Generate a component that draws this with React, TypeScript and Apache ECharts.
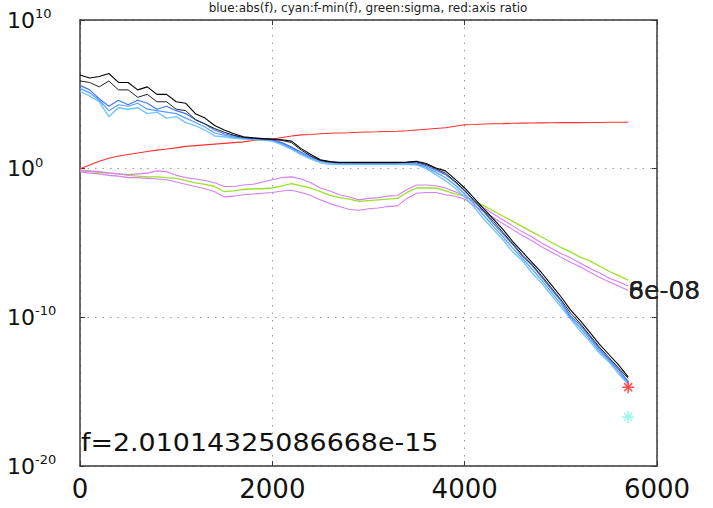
import React, { useEffect, useRef } from "react";
import * as echarts from "echarts";

// iterations (function evaluations)
const iters = [
  0, 100, 200, 300, 400, 500, 600, 700, 800, 900,
  1000, 1100, 1200, 1300, 1400, 1500, 1600, 1700, 1800, 1900,
  2000, 2100, 2200, 2300, 2400, 2500, 2600, 2700, 2800, 2900,
  3000, 3100, 3200, 3300, 3400, 3500, 3600, 3700, 3800, 3900,
  4000, 4100, 4200, 4300, 4400, 4500, 4600, 4700, 4800, 4900,
  5000, 5100, 5200, 5300, 5400, 5500, 5600, 5700,
];

// log10 values
const blackTopLog = [
  6.3, 6.1, 6.2, 6.4, 5.8, 5.8, 5.3, 5.5, 5.0, 5.0,
  4.5, 4.4, 3.7, 3.4, 2.9, 2.6, 2.35, 2.15, 2.08, 2.02,
  2.0, 1.95, 1.85, 1.35, 0.95, 0.6, 0.48, 0.42, 0.42, 0.42,
  0.42, 0.42, 0.42, 0.42, 0.45, 0.5, 0.35, 0.05, -0.15, -0.7,
  -1.3, -2.0, -2.7, -3.4, -4.1, -4.9, -5.6, -6.3, -7.0, -7.8,
  -8.6, -9.5, -10.2, -11.0, -11.8, -12.5, -13.2, -14.0,
];
const blackLowLog = [
  5.9, 5.8, 5.5, 5.9, 5.3, 5.3, 4.8, 5.0, 4.5, 4.5,
  4.0, 3.9, 3.3, 3.0, 2.7, 2.45, 2.25, 2.1, 2.04, 2.0,
  1.97, 1.9, 1.75, 1.25, 0.85, 0.55, 0.44, 0.4, 0.4, 0.4,
  0.4, 0.4, 0.4, 0.4, 0.42, 0.45, 0.28, 0.0, -0.3, -0.85,
  -1.45, -2.15, -2.85, -3.55, -4.3, -5.05, -5.8, -6.45, -7.2, -8.0,
  -8.8, -9.7, -10.4, -11.2, -12.0, -12.7, -13.4, -14.1,
];
const blueLog = [
  5.6, 5.3, 4.7, 4.2, 4.6, 4.3, 4.6, 4.4, 4.0, 4.2,
  3.9, 3.7, 3.3, 3.0, 2.6, 2.35, 2.2, 2.1, 2.05, 2.0,
  1.95, 1.75, 1.45, 1.1, 0.8, 0.55, 0.45, 0.42, 0.4, 0.4,
  0.4, 0.4, 0.4, 0.4, 0.4, 0.38, 0.2, -0.1, -0.4, -0.9,
  -1.5, -2.2, -2.9, -3.7, -4.4, -5.1, -5.9, -6.5, -7.3, -8.1,
  -8.9, -9.9, -10.5, -11.3, -12.1, -12.8, -13.5, -14.3,
];
const blueMidLog = [
  5.4, 5.1, 4.6, 3.9, 4.3, 4.2, 4.4, 4.0, 3.9, 3.8,
  3.7, 3.4, 3.1, 2.8, 2.4, 2.25, 2.12, 2.05, 2.0, 1.95,
  1.9, 1.68, 1.38, 1.02, 0.72, 0.48, 0.38, 0.34, 0.33, 0.33,
  0.33, 0.33, 0.33, 0.33, 0.33, 0.31, 0.1, -0.25, -0.6, -1.1,
  -1.7, -2.4, -3.15, -3.9, -4.6, -5.35, -6.05, -6.75, -7.5, -8.3,
  -9.1, -10.0, -10.7, -11.45, -12.25, -12.9, -13.65, -14.4,
];
const lightBlueLog = [
  5.2, 4.9, 4.5, 3.5, 4.1, 4.0, 4.1, 3.7, 3.8, 3.4,
  3.5, 3.1, 2.9, 2.6, 2.2, 2.15, 2.05, 2.0, 1.95, 1.9,
  1.85, 1.6, 1.3, 0.95, 0.65, 0.4, 0.3, 0.27, 0.27, 0.27,
  0.27, 0.27, 0.27, 0.27, 0.27, 0.25, 0.0, -0.4, -0.8, -1.3,
  -1.9, -2.6, -3.4, -4.1, -4.8, -5.6, -6.2, -7.0, -7.7, -8.5,
  -9.3, -10.1, -10.9, -11.6, -12.4, -13.0, -13.8, -14.5,
];
const redLog = [
  0.0, 0.25, 0.5, 0.7, 0.85, 0.95, 1.05, 1.15, 1.25, 1.32,
  1.4, 1.5, 1.55, 1.6, 1.65, 1.7, 1.75, 1.8, 1.9, 1.95,
  2.0, 2.1, 2.2, 2.27, 2.3, 2.35, 2.38, 2.4, 2.42, 2.45,
  2.47, 2.48, 2.5, 2.52, 2.55, 2.6, 2.65, 2.7, 2.75, 2.85,
  2.95, 2.97, 3.0, 3.02, 3.03, 3.05, 3.06, 3.07, 3.08, 3.09,
  3.1, 3.1, 3.1, 3.11, 3.11, 3.12, 3.12, 3.12,
];
const greenLog = [
  -0.15, -0.2, -0.25, -0.3, -0.35, -0.45, -0.5, -0.55, -0.55, -0.6,
  -0.65, -0.8, -0.95, -1.05, -1.2, -1.55, -1.5, -1.4, -1.35, -1.35,
  -1.3, -1.15, -1.0, -1.15, -1.3, -1.55, -1.8, -1.95, -2.05, -2.2,
  -2.15, -2.1, -2.05, -2.0, -1.6, -1.3, -1.3, -1.3, -1.5, -1.7,
  -1.85, -2.2, -2.5, -2.85, -3.2, -3.55, -3.9, -4.25, -4.6, -4.95,
  -5.3, -5.6, -5.95, -6.2, -6.55, -6.9, -7.2, -7.5,
];
const magentaUpLog = [
  -0.1, -0.15, -0.2, -0.3, -0.35, -0.4, -0.35, -0.3, -0.15, -0.2,
  -0.45, -0.6, -0.7, -0.8, -0.95, -1.2, -1.2, -1.1, -1.05, -0.9,
  -0.75, -0.6, -0.55, -0.7, -0.95, -1.3, -1.5, -1.75, -1.9, -2.1,
  -2.0, -1.95, -1.85, -1.8, -1.4, -1.1, -1.1, -1.15, -1.3, -1.55,
  -1.8, -2.3, -2.65, -3.05, -3.45, -3.85, -4.25, -4.6, -5.0, -5.35,
  -5.7, -6.0, -6.35, -6.7, -7.0, -7.35, -7.6, -7.9,
];
const magentaLowLog = [
  -0.2, -0.3, -0.35, -0.45, -0.5, -0.6, -0.6, -0.65, -0.7, -0.75,
  -0.9, -1.05, -1.2, -1.35, -1.55, -1.9, -1.85, -1.75, -1.7, -1.65,
  -1.6, -1.5, -1.45, -1.6, -1.8, -2.1, -2.35, -2.55, -2.75, -2.8,
  -2.7, -2.65, -2.55, -2.5, -2.0, -1.65, -1.6, -1.6, -1.75, -1.85,
  -2.05, -2.5, -2.9, -3.3, -3.7, -4.1, -4.5, -4.85, -5.25, -5.6,
  -5.95, -6.3, -6.6, -6.95, -7.3, -7.6, -7.9, -8.2,
];
const bestPoint = [5700, -14.7];
const minPoint = [5700, -16.7];

const xTicks = { min: 0, max: 6000, interval: 2000 };
const yTicks = { min: -20, max: 10, interval: 10 };
const titleText = "blue:abs(f), cyan:f-min(f), green:sigma, red:axis ratio";
const fText = "f=2.01014325086668e-15";
const stdLabels = ["8e-08", "6e-08"];

const FONT = "DejaVu Sans";
const STAR = "path://M5,0L5,10M0,5L10,5M1.6,1.6L8.4,8.4M1.6,8.4L8.4,1.6";

function pairs(vals: number[]) {
  return iters.map((x, i) => [x, vals[i]]);
}

function line(name: string, vals: number[], color: string, width = 1, z = 2, extra: any = {}) {
  return {
    name,
    type: "line",
    data: pairs(vals),
    symbol: "none",
    z,
    lineStyle: { color, width },
    emphasis: { disabled: true },
    ...extra,
  };
}

export default function App() {
  const ref = useRef<HTMLDivElement>(null);
  useEffect(() => {
    if (!ref.current) return;
    const chart = echarts.init(ref.current, undefined, { renderer: "svg" });
    const gridLine = { show: true, lineStyle: { color: "#9a9a9a", width: 1, type: [1.5, 6] } };
    const frame = { show: true, onZero: false, lineStyle: { color: "#3a3a3a", width: 1.5 } };
    const tick = { show: true, inside: true, length: 5, lineStyle: { color: "#3a3a3a" } };
    chart.setOption({
      animation: false,
      backgroundColor: "#ffffff",
      grid: { left: 80, right: 56, top: 20, bottom: 42 },
      xAxis: [
        {
          type: "value",
          ...xTicks,
          axisLine: frame,
          axisTick: tick,
          splitLine: gridLine,
          axisLabel: {
            fontFamily: FONT,
            fontSize: 26,
            color: "#111",
            margin: 10,
            formatter: (v: number) => String(v),
          },
        },
        {
          type: "value",
          position: "top",
          ...xTicks,
          axisLine: frame,
          axisTick: tick,
          splitLine: { show: false },
          axisLabel: { show: false },
        },
      ],
      yAxis: [
        {
          type: "value",
          ...yTicks,
          axisLine: frame,
          axisTick: tick,
          splitLine: gridLine,
          axisLabel: {
            align: "left",
            margin: 73,
            verticalAlign: "middle",
            formatter: (v: number) => `{b|10}{s|${v}}`,
            rich: {
              b: { fontFamily: FONT, fontSize: 22, color: "#111", lineHeight: 26 },
              s: { fontFamily: FONT, fontSize: 13, color: "#111", verticalAlign: "top" },
            },
          },
        },
        {
          type: "value",
          position: "right",
          ...yTicks,
          axisLine: frame,
          axisTick: tick,
          splitLine: { show: false },
          axisLabel: { show: false },
        },
      ],
      series: [
        line("axis ratio", redLog, "#ff3030", 1.1, 2),
        line("sigma", greenLog, "#9ee02a", 1.3, 3),
        line("max std", magentaUpLog, "#d67ef7", 1.1, 3, {
          endLabel: {
            show: true,
            formatter: stdLabels[0],
            distance: 0,
            fontFamily: FONT,
            fontSize: 25,
            color: "#111",
            offset: [0, 4],
          },
        }),
        line("min std", magentaLowLog, "#d67ef7", 1.1, 3, {
          endLabel: {
            show: true,
            formatter: stdLabels[1],
            distance: 0,
            fontFamily: FONT,
            fontSize: 25,
            color: "#222",
            offset: [0, 0],
          },
        }),
        line("f-min(f)", lightBlueLog, "#72c6ff", 1.4, 4),
        line("abs(f) mid", blueMidLog, "#5c9cff", 1.2, 4),
        line("abs(f)", blueLog, "#3f78f0", 1.2, 4),
        line("f low", blackLowLog, "#222222", 1, 5),
        line("f", blackTopLog, "#000000", 1.1, 5),
        {
          name: "best",
          type: "scatter",
          data: [bestPoint],
          symbol: STAR,
          symbolSize: 12,
          z: 6,
          itemStyle: { color: "rgba(0,0,0,0)", borderColor: "#ff2020", borderWidth: 1.5 },
        },
        {
          name: "min",
          type: "scatter",
          data: [minPoint],
          symbol: STAR,
          symbolSize: 12,
          z: 6,
          itemStyle: { color: "rgba(0,0,0,0)", borderColor: "#7ff5ea", borderWidth: 1.5 },
        },
      ],
      graphic: [
        {
          type: "text",
          x: 368,
          y: 8,
          style: { text: titleText, font: `12px "${FONT}"`, fill: "#222", align: "center", verticalAlign: "middle" },
        },
        {
          type: "text",
          x: 81,
          y: 443,
          scaleX: 1.12,
          z: 10,
          style: { text: fText, font: `24px "${FONT}"`, fill: "#111", align: "left", verticalAlign: "middle" },
        },
      ],
    });
    return () => chart.dispose();
  }, []);
  return <div ref={ref} style={{ position: "absolute", left: 0, top: 0, width: 713, height: 508 }} />;
}
